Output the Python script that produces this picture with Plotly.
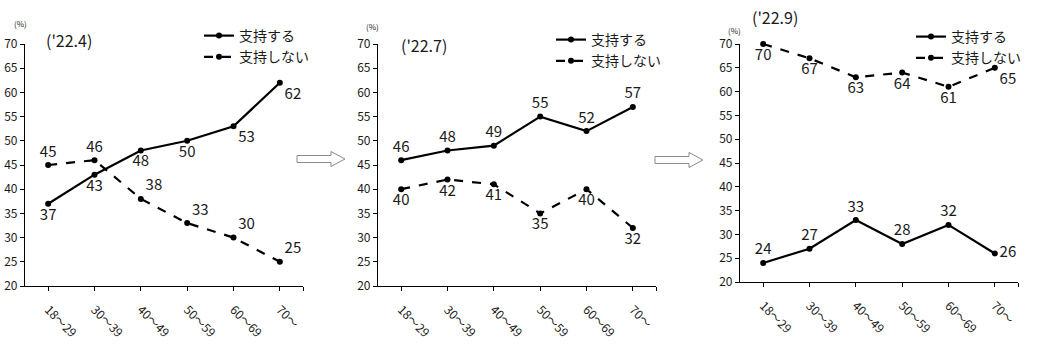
import plotly.graph_objects as go

W, H = 1053, 349

age_groups = ["18～29", "30～39", "40～49", "50～59", "60～69", "70～"]
periods = ["('22.4)", "('22.7)", "('22.9)"]

support_2204 = [37, 43, 48, 50, 53, 62]
oppose_2204 = [45, 46, 38, 33, 30, 25]
support_2207 = [46, 48, 49, 55, 52, 57]
oppose_2207 = [40, 42, 41, 35, 40, 32]
support_2209 = [24, 27, 33, 28, 32, 26]
oppose_2209 = [70, 67, 63, 64, 61, 65]

series_names = ["支持する", "支持しない"]

FONT = "Noto Sans CJK JP"


def px(x):
    return x / W


def py(y):
    return 1 - y / H


# panel layout in pixels: (axis left, axis right, y of 20, y of 70)
panels = [
    dict(x0=25, x1=303, yb=286, yt=44, title_xy=(69, 40), pct_xy=(20, 24),
         legend_xy=(199, 20),
         sup=support_2204, opp=oppose_2204,
         sup_pos=["bottom center", "bottom center", "bottom center", "bottom center",
                  "bottom right", "bottom right"],
         opp_pos=["top center", "top center", "top right", "top right",
                  "top right", "top right"]),
    dict(x0=378, x1=656, yb=286, yt=44, title_xy=(424, 45), pct_xy=(372, 27),
         legend_xy=(551, 24),
         sup=support_2207, opp=oppose_2207,
         sup_pos=["top center"] * 6,
         opp_pos=["bottom center"] * 6),
    dict(x0=740, x1=1018, yb=282, yt=44, title_xy=(775, 17), pct_xy=(734, 30),
         legend_xy=(911, 21),
         sup=support_2209, opp=oppose_2209,
         sup_pos=["top center", "top center", "top center", "top center",
                  "top center", "middle right"],
         opp_pos=["bottom center", "bottom center", "bottom center", "bottom center",
                  "bottom center", "bottom right"]),
]

fig = go.Figure()
layout = dict(
    width=W, height=H,
    margin=dict(l=0, r=0, t=0, b=0, autoexpand=False),
    paper_bgcolor="white", plot_bgcolor="white",
    font=dict(family=FONT, color="#1a1a1a"),
    showlegend=True,
)
annotations = []
shapes = []

xpos = list(range(len(age_groups)))

for i, p in enumerate(panels):
    sfx = "" if i == 0 else str(i + 1)
    xa, ya = "x" + sfx, "y" + sfx
    lg = "legend" + sfx
    for name, vals, dash, pos in [
        (series_names[0], p["sup"], "solid", p["sup_pos"]),
        (series_names[1], p["opp"], "dash", p["opp_pos"]),
    ]:
        fig.add_trace(go.Scatter(
            x=xpos, y=vals, name=name, xaxis=xa, yaxis=ya, legend=lg,
            mode="lines+markers+text",
            line=dict(color="black", width=2.2, dash=dash),
            marker=dict(color="black", size=6),
            text=[str(v) for v in vals], textposition=pos,
            textfont=dict(size=15, color="#1a1a1a", family=FONT),
            cliponaxis=False,
        ))
    layout["xaxis" + sfx] = dict(
        domain=[px(p["x0"]), px(p["x1"])], anchor=ya,
        range=[-0.5, 5.5], automargin=False,
        tickvals=xpos + [5.5], ticktext=age_groups + [""],
        tickangle=45, ticks="outside", ticklen=4, tickcolor="black",
        showline=True, linecolor="black", linewidth=1.2,
        showgrid=False, zeroline=False,
        tickfont=dict(size=12, family=FONT, color="#1a1a1a"),
        ticklabelstandoff=7,
    )
    layout["yaxis" + sfx] = dict(
        domain=[py(p["yb"]), py(p["yt"])], anchor=xa,
        range=[20, 70], tickvals=list(range(20, 71, 5)), automargin=False,
        ticks="outside", ticklen=4, tickcolor="black",
        showline=True, linecolor="black", linewidth=1.2,
        showgrid=False, zeroline=False,
        tickfont=dict(size=12, family=FONT, color="#1a1a1a"),
    )
    layout[lg] = dict(
        x=px(p["legend_xy"][0]), y=py(p["legend_xy"][1]),
        xanchor="left", yanchor="top",
        bgcolor="rgba(0,0,0,0)", itemwidth=30,
        font=dict(size=14, family=FONT, color="#1a1a1a"),
        tracegroupgap=0,
    )
    annotations.append(dict(
        x=px(p["title_xy"][0]), y=py(p["title_xy"][1]), xref="paper", yref="paper",
        text=periods[i], showarrow=False, xanchor="center", yanchor="middle",
        font=dict(size=16, family=FONT, color="#1a1a1a"),
    ))
    annotations.append(dict(
        x=px(p["pct_xy"][0]), y=py(p["pct_xy"][1]), xref="paper", yref="paper",
        text="(%)", showarrow=False, xanchor="center", yanchor="middle",
        font=dict(size=8, family=FONT, color="#1a1a1a"),
    ))


def block_arrow(x0, x1, yc):
    # hollow right-pointing arrow, drawn in paper coordinates
    head = 14
    sh, hh = 3.5, 7.5
    pts = [(x0, yc - sh), (x1 - head, yc - sh), (x1 - head, yc - hh), (x1, yc),
           (x1 - head, yc + hh), (x1 - head, yc + sh), (x0, yc + sh)]
    path = "M " + " L ".join(f"{px(a):.5f},{py(b):.5f}" for a, b in pts) + " Z"
    return dict(type="path", xref="paper", yref="paper", path=path,
                line=dict(color="#8a8a8a", width=1), fillcolor="white")


shapes.append(block_arrow(297, 345, 159))
shapes.append(block_arrow(655, 703, 160))

layout["annotations"] = annotations
layout["shapes"] = shapes
fig.update_layout(**layout)

fig.write_html("out.html")
